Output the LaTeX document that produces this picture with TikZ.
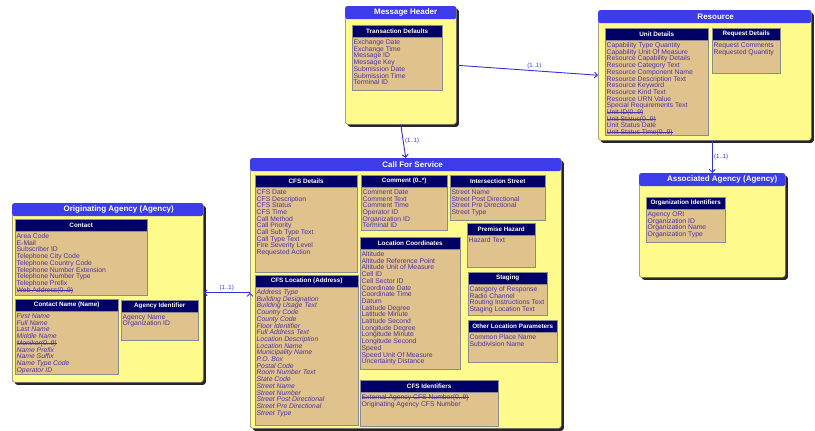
\documentclass[tikz,border=0pt]{standalone}
\usepackage{fontspec}
\setmainfont{Liberation Sans}
\usetikzlibrary{arrows.meta}
\usetikzlibrary{shadows}

\definecolor{entyellow}{RGB}{255,250,140}
\definecolor{entblue}{RGB}{60,60,235}
\definecolor{grpnavy}{RGB}{0,0,102}
\definecolor{grptan}{RGB}{224,194,140}
\definecolor{itemblue}{RGB}{75,50,165}
\definecolor{linkblue}{RGB}{50,50,215}

\newcommand{\strk}[1]{\setbox0\hbox{#1}\rlap{\rule[0.5ex]{\wd0}{0.6pt}}\box0}

\tikzset{
	entbody/.style={anchor=north west, draw=black!55, line width=0.5pt, fill=entyellow, rounded corners=2.5pt, inner sep=0pt,
		drop shadow={shadow xshift=2.5pt, shadow yshift=-2.5pt, fill=black!85, opacity=1}},
	enthead/.style={anchor=north west, fill=entblue, rounded corners=2.5pt, inner sep=0pt, minimum height=13pt},
	enttitle/.style={text=white, font=\bfseries\fontsize{8}{9}\selectfont, inner sep=0pt},
	grpbody/.style={anchor=north west, draw=black!45, line width=0.4pt, fill=grptan, inner sep=0pt},
	grphead/.style={anchor=north west, draw=black!45, line width=0.4pt, fill=grpnavy, text=white,
		font=\bfseries\fontsize{6.3}{7}\selectfont, inner sep=0pt, minimum height=12pt},
	itemlist/.style={anchor=north west, align=left, text=itemblue, font=\fontsize{6.8}{6.7}\selectfont, inner xsep=1.5pt, inner ysep=1pt},
	slanted/.style={font=\itshape\fontsize{6.8}{6.7}\selectfont},
	link/.style={draw=linkblue, line width=0.9pt, -{Straight Barb[length=3pt,width=6pt]}},
	card/.style={text=linkblue, font=\fontsize{6}{7}\selectfont, inner sep=1.5pt},
}

% name, x, y, width, height, title, title shift
\newcommand{\drawent}[7]{%
	\node[entbody, minimum width=#4pt, minimum height=#5pt] (#1) at (#2,#3) {};
	\node[enthead, minimum width=#4pt] (#1-h) at (#1.north west) {};
	\node[enttitle] (#1-t) at ([xshift=#7pt]#1-h.center) {#6};
}
% [list style] name, x, y, width, height, title, items
\newcommand{\drawgrp}[8][]{%
	\node[grpbody, minimum width=#5pt, minimum height=#6pt] (#2) at (#3,#4) {};
	\node[grphead, minimum width=#5pt] (#2-h) at (#2.north west) {#7};
	\node[itemlist, #1] (#2-l) at ([yshift=-1pt]#2-h.south west) {#8};
}

\begin{document}
\begin{tikzpicture}[x=1pt, y=-1pt]
	\useasboundingbox (0,0) rectangle (815,431);

	\drawent{msg}{345}{6}{111}{118}{Message Header}{5}
	\drawgrp{td}{352}{25}{90}{65}{Transaction Defaults}{Exchange Date\\Exchange Time\\Message ID\\Message Key\\Submission Date\\Submission Time\\Terminal ID}

	\drawent{res}{598}{10}{213}{130}{Resource}{11}
	\drawgrp{ud}{605}{28}{103}{107}{Unit Details}{Capability Type Quantity\\Capability Unit Of Measure\\Resource Capability Details\\Resource Category Text\\Resource Component Name\\Resource Description Text\\Resource Keyword\\Resource Kind Text\\Resource URN Value\\Special Requirements Text\\\strk{Unit ID(0..9)}\\\strk{Unit Status(0..9)}\\Unit Status Date\\\strk{Unit Status Time(0..9)}}
	\drawgrp{rd}{712}{28}{68}{45}{Request Details}{Request Comments\\Requested Quantity}

	\drawent{as}{639}{173}{146}{104}{Associated Agency (Agency)}{10}
	\drawgrp{oi}{646}{197}{79}{45}{Organization Identifiers}{Agency ORI\\Organization ID\\Organization Name\\Organization Type}

	\drawent{cfs}{250}{158}{311}{270}{Call For Service}{7}
	\drawgrp{cd}{255}{175}{102}{97}{CFS Details}{CFS Date\\CFS Description\\CFS Status\\CFS Time\\Call Method\\Call Priority\\Call Sub Type Text\\Call Type Text\\Fire Severity Level\\Requested Action}
	\drawgrp[slanted]{cl}{255}{275}{103}{150}{CFS Location (Address)}{Address Type\\Building Designation\\Building Usage Text\\Country Code\\County Code\\Floor Identifier\\Full Address Text\\Location Description\\Location Name\\Municipality Name\\P.O. Box\\Postal Code\\Room Number Text\\State Code\\Street Name\\Street Number\\Street Post Directional\\Street Pre Directional\\Street Type}
	\drawgrp{cm}{361}{175}{86}{55}{Comment (0..*)}{Comment Date\\Comment Text\\Comment Time\\Operator ID\\Organization ID\\Terminal ID}
	\drawgrp{is}{450}{175}{95}{45}{Intersection Street}{Street Name\\Street Post Directional\\Street Pre Directional\\Street Type}
	\drawgrp{lc}{360}{237}{100}{132}{Location Coordinates}{Altitude\\Altitude Reference Point\\Altitude Unit of Measure\\Cell ID\\Cell Sector ID\\Coordinate Date\\Coordinate Time\\Datum\\Latitude Degree\\Latitude Minute\\Latitude Second\\Longitude Degree\\Longitude Minute\\Longitude Second\\Speed\\Speed Unit Of Measure\\Uncertainty Distance}
	\drawgrp{ph}{467}{223}{68}{44}{Premise Hazard}{Hazard Text}
	\drawgrp{st}{468}{272}{79}{43}{Staging}{Category of Response\\Radio Channel\\Routing Instructions Text\\Staging Location Text}
	\drawgrp{ol}{468}{320}{89}{42}{Other Location Parameters}{Common Place Name\\Subdivision Name}
	\drawgrp{ci}{360}{380}{138}{46}{CFS Identifiers}{\strk{External Agency CFS Number(0..9)}\\Originating Agency CFS Number}

	\drawent{orig}{12}{203}{191}{179}{Originating Agency (Agency)}{11}
	\drawgrp{ct}{15}{219}{132}{76}{Contact}{Area Code\\E-Mail\\Subscriber ID\\Telephone City Code\\Telephone Country Code\\Telephone Number Extension\\Telephone Number Type\\Telephone Prefix\\\strk{Web Address(0..9)}}
	\drawgrp[slanted]{cn}{15}{299}{103}{75}{Contact Name (Name)}{First Name\\Full Name\\Last Name\\Middle Name\\\strk{Moniker(0..9)}\\Name Prefix\\Name Suffix\\Name Type Code\\Operator ID}
	\drawgrp{ai}{121}{300}{77}{40}{Agency Identifier}{Agency Name\\Organization ID}

	\path[link]
	(msg.east) edge node [card, above, pos=0.55] (c1) {(1..1)} (res.west)
	(msg.south) edge node [card, right] (c2) {(1..1)} (cfs.north)
	(as.north |- res.south) edge node [card, right] (c3) {(1..1)} (as.north)
	(orig.east -| cfs.west) edge node [card, above] (c4) {(1..1)} (orig.east);
\end{tikzpicture}
\end{document}
